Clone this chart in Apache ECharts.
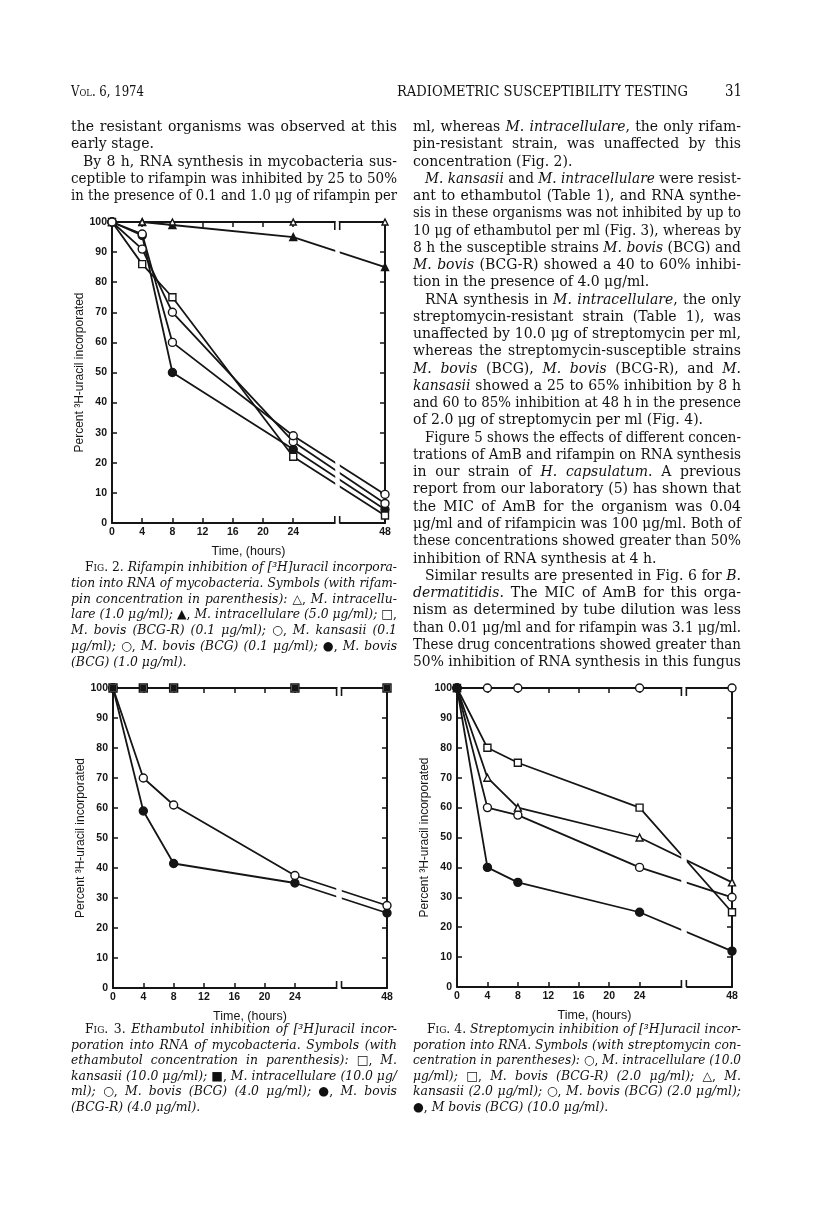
<!DOCTYPE html>
<html>
<head>
<meta charset="utf-8">
<script src="https://cdn.jsdelivr.net/npm/echarts@6.0.0/dist/echarts.min.js"></script>
<style>
html, body { margin: 0; padding: 0; background: #fff; }
#page { position: relative; width: 816px; height: 1230px; overflow: hidden; background: #fff; }
#chart { position: absolute; left: 0; top: 0; width: 816px; height: 1230px; }
.ln { position: absolute; white-space: nowrap; color: #111; font-family: "DejaVu Serif", "Liberation Serif", serif; }
.ln > span { display: inline-block; transform-origin: 0 50%; }
.body { font-size: 14px; line-height: 18px; }
.cap { font-size: 12.4px; line-height: 16px; }
.sc { font-variant: small-caps; }
</style>
</head>
<body>
<div id="page">
  <div id="chart"></div>
</div>
<script>
// ---- data ----
const times = [0, 4, 8, 24, 48];
const xLabelHours = [0, 4, 8, 12, 16, 20, 24, 48];
const xTickHours = [0, 4, 8, 12, 16, 20, 24];

// Fig. 2 rifampin
const f2IntraLow = [100, 100, 100, 100, 100];   // triangle open, 1.0
const f2IntraHigh = [100, 100, 99, 95, 85];     // triangle filled, 5.0
const f2BovisR = [100, 86, 75, 22, 2.5];        // square, 0.1
const f2Kansasii = [100, 91, 70, 27, 6.5];      // circle open, 0.1
const f2BovisLow = [100, 96, 60, 29, 9.5];      // circle open, 0.1
const f2BovisHigh = [100, 95.5, 50, 24.5, 4.5]; // circle filled, 1.0

// Fig. 3 ethambutol
const f3Kansasii = [100, 100, 100, 100, 100];   // square open
const f3Intra = [100, 100, 100, 100, 100];      // square filled
const f3Bovis = [100, 70, 61, 37.5, 27.5];      // circle open
const f3BovisR = [100, 59, 41.5, 35, 25];       // circle filled

// Fig. 4 streptomycin
const f4Intra = [100, 100, 100, 100, 100];      // circle open
const f4BovisR = [100, 80, 75, 60, 25];         // square open
const f4Kansasii = [100, 70, 60, 50, 35];       // triangle open
const f4Bovis = [100, 60, 57.5, 40, 30];        // circle open
const f4BovisHigh = [100, 40, 35, 25, 12];      // circle filled

const breakFrom = 29.5;
const breakTo = 42;
const INK = '#151515';
const LABEL_FONT = '"Liberation Sans", "DejaVu Sans", sans-serif';

const grids = [
  { left: 112, top: 222, width: 273, height: 301 },
  { left: 113, top: 688, width: 274, height: 300 },
  { left: 457, top: 688, width: 275, height: 299 }
];

function xAxes(g) {
  const base = {
    type: 'value',
    gridIndex: g,
    min: 0,
    max: 48,
    breaks: [{ start: breakFrom, end: breakTo, gap: '1.8%' }],
    breakArea: {
      show: true,
      zigzagAmplitude: 0,
      zigzagZ: 100,
      expandOnClick: false,
      itemStyle: { color: '#fff', borderWidth: 0, opacity: 1 }
    },
    axisLine: { show: true, onZero: false, lineStyle: { color: INK, width: 2 } },
    axisTick: { show: true, inside: true, length: 5, customValues: xTickHours, lineStyle: { color: INK, width: 1.5 } },
    splitLine: { show: false }
  };
  return [
    Object.assign({}, base, {
      position: 'bottom',
      name: 'Time, (hours)',
      nameLocation: 'middle',
      nameGap: 22,
      nameTextStyle: { color: INK, fontSize: 12.5, fontFamily: LABEL_FONT },
      axisLabel: { customValues: xLabelHours, margin: 4, color: INK, fontSize: 10.5, fontFamily: LABEL_FONT, fontWeight: 'bold' }
    }),
    Object.assign({}, base, { position: 'top', axisLabel: { show: false } })
  ];
}

function yAxes(g) {
  const base = {
    type: 'value',
    gridIndex: g,
    min: 0,
    max: 100,
    interval: 10,
    axisLine: { show: true, onZero: false, lineStyle: { color: INK, width: 2 } },
    axisTick: { show: true, inside: true, length: 5, lineStyle: { color: INK, width: 1.5 } },
    splitLine: { show: false }
  };
  return [
    Object.assign({}, base, {
      position: 'left',
      name: 'Percent \u00b3H-uracil incorporated',
      nameLocation: 'middle',
      nameGap: 23,
      nameTextStyle: { color: INK, fontSize: 12, fontFamily: LABEL_FONT },
      axisLabel: { margin: 5, color: INK, fontSize: 10.5, fontFamily: LABEL_FONT, fontWeight: 'bold' }
    }),
    Object.assign({}, base, { position: 'right', axisLabel: { show: false } })
  ];
}

function line(g, values, symbol, filled, size) {
  return {
    type: 'line',
    xAxisIndex: 2 * g,
    yAxisIndex: 2 * g,
    data: times.map((t, i) => [t, values[i]]),
    symbol: symbol,
    symbolSize: size,
    showAllSymbol: true,
    clip: false,
    z: 3,
    lineStyle: { color: INK, width: 1.8 },
    itemStyle: { color: filled ? INK : '#fff', borderColor: INK, borderWidth: 1.4 },
    emphasis: { disabled: true }
  };
}

const chart = echarts.init(document.getElementById('chart'), null, { renderer: 'canvas' });

chart.setOption({
  animation: false,
  textStyle: { fontFamily: LABEL_FONT },
  grid: grids,
  xAxis: [].concat(xAxes(0), xAxes(1), xAxes(2)),
  yAxis: [].concat(yAxes(0), yAxes(1), yAxes(2)),
  series: [
    line(0, f2IntraHigh, 'triangle', true, 7),
    line(0, f2IntraLow, 'triangle', false, 6),
    line(0, f2BovisHigh, 'circle', true, 8),
    line(0, f2BovisR, 'rect', false, 7),
    line(0, f2Kansasii, 'circle', false, 8),
    line(0, f2BovisLow, 'circle', false, 8),

    line(1, f3BovisR, 'circle', true, 8),
    line(1, f3Bovis, 'circle', false, 8),
    line(1, f3Kansasii, 'rect', false, 8),
    line(1, f3Intra, 'rect', true, 5),

    line(2, f4Intra, 'circle', false, 8),
    line(2, f4Bovis, 'circle', false, 8),
    line(2, f4Kansasii, 'triangle', false, 7),
    line(2, f4BovisR, 'rect', false, 7),
    line(2, f4BovisHigh, 'circle', true, 8)
  ]
});

// hooks drawn at the ends of each broken frame line
const deco = [];
grids.forEach((gr, g) => {
  const finder = { xAxisIndex: 2 * g, yAxisIndex: 2 * g };
  const p0 = chart.convertToPixel(finder, [breakFrom, 100]);
  const p1 = chart.convertToPixel(finder, [breakTo, 0]);
  const top = p0[1], bottom = p1[1];
  const xa = p0[0], xb = p1[0];
  deco.push({ type: 'rect', z: 200, shape: { x: xa + 1, y: top - 3, width: xb - xa - 2, height: 6 }, style: { fill: '#fff' } });
  deco.push({ type: 'rect', z: 200, shape: { x: xa + 1, y: bottom - 3, width: xb - xa - 2, height: 6 }, style: { fill: '#fff' } });
  [[xa, top, top + 8], [xb, top, top + 8], [xa, bottom, bottom - 7], [xb, bottom, bottom - 7]].forEach(h => {
    deco.push({ type: 'line', z: 201, shape: { x1: h[0], y1: h[1], x2: h[0], y2: h[2] }, style: { stroke: INK, lineWidth: 1.6 } });
  });
});
chart.setOption({ graphic: deco });

// ---- page text ----
const page = document.getElementById('page');

// mode: 'j' justify to width, 'l' left (shrink only if too long), 'f' fit exactly
function place(x, y, w, html, cls, mode, indent) {
  const d = document.createElement('div');
  d.className = 'ln ' + cls;
  d.style.left = (x + (indent || 0)) + 'px';
  const half = cls === 'cap' ? 9 : 10;
  d.style.top = (y - half) + 'px';
  const s = document.createElement('span');
  s.innerHTML = html;
  d.appendChild(s);
  page.appendChild(d);
  const room = w - (indent || 0);
  const nat = s.getBoundingClientRect().width;
  const gaps = (s.textContent.match(/ /g) || []).length;
  if (nat > room || mode === 'f') {
    s.style.transform = 'scaleX(' + (room / nat) + ')';
  } else if (mode === 'j' && gaps) {
    s.style.wordSpacing = ((room - nat) / gaps) + 'px';
  }
}

// running head
place(71, 92, 73, 'V<span class="sc">ol</span>. 6, 1974', 'body', 'f');
place(397, 92, 291, 'RADIOMETRIC SUSCEPTIBILITY TESTING', 'body', 'f');
place(725, 92, 17, '<span style="font-size:16px">31</span>', 'body', 'f');

const LSTEP = 17.26;
const leftBody = [
  ['the resistant organisms was observed at this', 'j', 0],
  ['early stage.', 'l', 0],
  ['By 8 h, RNA synthesis in mycobacteria sus-', 'j', 12],
  ['ceptible to rifampin was inhibited by 25 to 50%', 'j', 0],
  ['in the presence of 0.1 and 1.0 \u03bcg of rifampin per', 'j', 0]
];
leftBody.forEach((r, i) => place(71, 127 + i * LSTEP, 326, r[0], 'body', r[1], r[2]));

const rightBody = [
  ['ml, whereas <i>M. intracellulare</i>, the only rifam-', 'j', 0],
  ['pin-resistant strain, was unaffected by this', 'j', 0],
  ['concentration (Fig. 2).', 'l', 0],
  ['<i>M. kansasii</i> and <i>M. intracellulare</i> were resist-', 'j', 12],
  ['ant to ethambutol (Table 1), and RNA synthe-', 'j', 0],
  ['sis in these organisms was not inhibited by up to', 'j', 0],
  ['10 \u03bcg of ethambutol per ml (Fig. 3), whereas by', 'j', 0],
  ['8 h the susceptible strains <i>M. bovis</i> (BCG) and', 'j', 0],
  ['<i>M. bovis</i> (BCG-R) showed a 40 to 60% inhibi-', 'j', 0],
  ['tion in the presence of 4.0 \u03bcg/ml.', 'l', 0],
  ['RNA synthesis in <i>M. intracellulare</i>, the only', 'j', 12],
  ['streptomycin-resistant strain (Table 1), was', 'j', 0],
  ['unaffected by 10.0 \u03bcg of streptomycin per ml,', 'j', 0],
  ['whereas the streptomycin-susceptible strains', 'j', 0],
  ['<i>M. bovis</i> (BCG), <i>M. bovis</i> (BCG-R), and <i>M.</i>', 'j', 0],
  ['<i>kansasii</i> showed a 25 to 65% inhibition by 8 h', 'j', 0],
  ['and 60 to 85% inhibition at 48 h in the presence', 'j', 0],
  ['of 2.0 \u03bcg of streptomycin per ml (Fig. 4).', 'l', 0],
  ['Figure 5 shows the effects of different concen-', 'j', 12],
  ['trations of AmB and rifampin on RNA synthesis', 'j', 0],
  ['in our strain of <i>H. capsulatum</i>. A previous', 'j', 0],
  ['report from our laboratory (5) has shown that', 'j', 0],
  ['the MIC of AmB for the organism was 0.04', 'j', 0],
  ['\u03bcg/ml and of rifampicin was 100 \u03bcg/ml. Both of', 'j', 0],
  ['these concentrations showed greater than 50%', 'j', 0],
  ['inhibition of RNA synthesis at 4 h.', 'l', 0],
  ['Similar results are presented in Fig. 6 for <i>B.</i>', 'j', 12],
  ['<i>dermatitidis</i>. The MIC of AmB for this orga-', 'j', 0],
  ['nism as determined by tube dilution was less', 'j', 0],
  ['than 0.01 \u03bcg/ml and for rifampin was 3.1 \u03bcg/ml.', 'j', 0],
  ['These drug concentrations showed greater than', 'j', 0],
  ['50% inhibition of RNA synthesis in this fungus', 'j', 0]
];
rightBody.forEach((r, i) => place(413, 127 + i * LSTEP, 328, r[0], 'body', r[1], r[2]));

const CSTEP = 15.8;
const cap2 = [
  ['<span class="sc">Fig.</span> 2. <i>Rifampin inhibition of [\u00b3H]uracil incorpora-</i>', 'j', 14],
  ['<i>tion into RNA of mycobacteria. Symbols (with rifam-</i>', 'j', 0],
  ['<i>pin concentration in parenthesis):</i> \u25b3, <i>M. intracellu-</i>', 'j', 0],
  ['<i>lare (1.0 \u03bcg/ml);</i> \u25b2, <i>M. intracellulare (5.0 \u03bcg/ml);</i> \u25a1,', 'j', 0],
  ['<i>M. bovis (BCG-R) (0.1 \u03bcg/ml);</i> \u25cb, <i>M. kansasii (0.1</i>', 'j', 0],
  ['<i>\u03bcg/ml);</i> \u25cb, <i>M. bovis (BCG) (0.1 \u03bcg/ml);</i> \u25cf, <i>M. bovis</i>', 'j', 0],
  ['<i>(BCG) (1.0 \u03bcg/ml).</i>', 'l', 0]
];
cap2.forEach((r, i) => place(71, 568 + i * CSTEP, 326, r[0], 'cap', r[1], r[2]));

const cap3 = [
  ['<span class="sc">Fig.</span> 3. <i>Ethambutol inhibition of [\u00b3H]uracil incor-</i>', 'j', 14],
  ['<i>poration into RNA of mycobacteria. Symbols (with</i>', 'j', 0],
  ['<i>ethambutol concentration in parenthesis):</i> \u25a1, <i>M.</i>', 'j', 0],
  ['<i>kansasii (10.0 \u03bcg/ml);</i> \u25a0, <i>M. intracellulare (10.0 \u03bcg/</i>', 'j', 0],
  ['<i>ml);</i> \u25cb, <i>M. bovis (BCG) (4.0 \u03bcg/ml);</i> \u25cf, <i>M. bovis</i>', 'j', 0],
  ['<i>(BCG-R) (4.0 \u03bcg/ml).</i>', 'l', 0]
];
cap3.forEach((r, i) => place(71, 1030 + i * 15.6, 326, r[0], 'cap', r[1], r[2]));

const cap4 = [
  ['<span class="sc">Fig.</span> 4. <i>Streptomycin inhibition of [\u00b3H]uracil incor-</i>', 'j', 14],
  ['<i>poration into RNA. Symbols (with streptomycin con-</i>', 'j', 0],
  ['<i>centration in parentheses):</i> \u25cb, <i>M. intracellulare (10.0</i>', 'j', 0],
  ['<i>\u03bcg/ml);</i> \u25a1, <i>M. bovis (BCG-R) (2.0 \u03bcg/ml);</i> \u25b3, <i>M.</i>', 'j', 0],
  ['<i>kansasii (2.0 \u03bcg/ml);</i> \u25cb, <i>M. bovis (BCG) (2.0 \u03bcg/ml);</i>', 'j', 0],
  ['\u25cf, <i>M bovis (BCG) (10.0 \u03bcg/ml).</i>', 'l', 0]
];
cap4.forEach((r, i) => place(413, 1030 + i * 15.6, 328, r[0], 'cap', r[1], r[2]));
</script>
</body>
</html>
